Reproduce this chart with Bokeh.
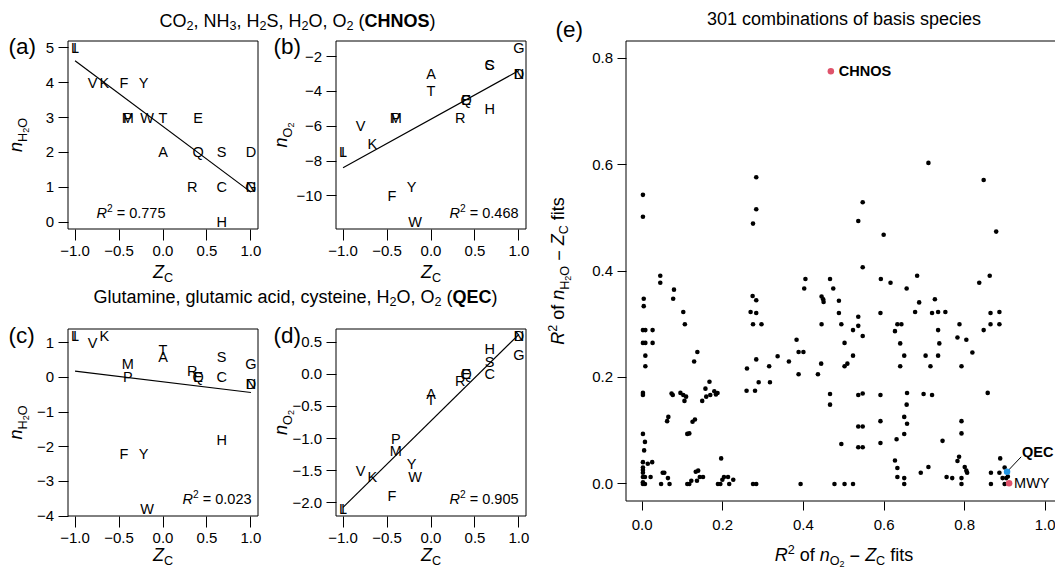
import math
import numpy as np
from bokeh.plotting import figure
from bokeh.models import (Range1d, FixedTicker, CustomJSTickFormatter, Label, ColumnDataSource,
                          LinearAxis, BoxAnnotation)
from bokeh.core.properties import value
from bokeh.embed import file_html
from bokeh.resources import INLINE

FONT = "Liberation Sans"

# ---------------- data: amino acids ----------------
letters = ["A", "C", "D", "E", "F", "G", "H", "I", "K", "L",
           "M", "N", "P", "Q", "R", "S", "T", "V", "W", "Y"]
zc = [0.0, 0.667, 1.0, 0.4, -0.444, 1.0, 0.667, -1.0, -0.667, -1.0,
      -0.4, 1.0, -0.4, 0.4, 0.333, 0.667, 0.0, -0.8, -0.182, -0.222]
chnos_h2o = [2, 1, 2, 3, 4, 1, 0, 5, 4, 5, 3, 1, 3, 2, 1, 2, 3, 4, 3, 4]
chnos_o2 = [-3, -2.5, -3, -4.5, -10, -1.5, -5, -7.5, -7, -7.5,
            -5.5, -3, -5.5, -4.5, -5.5, -2.5, -4, -6, -11.5, -9.5]
qec_h2o = [0.6, 0.0, -0.2, 0.0, -2.2, 0.4, -1.8, 1.2, 1.2, 1.2,
           0.4, -0.2, 0.0, 0.0, 0.2, 0.6, 0.8, 1.0, -3.8, -2.2]
qec_o2 = [-0.3, 0.0, 0.6, 0.0, -1.9, 0.3, 0.4, -2.1, -1.6, -2.1,
          -1.2, 0.6, -1.0, 0.0, -0.1, 0.2, -0.4, -1.5, -1.6, -1.4]
r2_text = ["0.775", "0.468", "0.023", "0.905"]

x_ticks = [-1.0, -0.5, 0.0, 0.5, 1.0]
a_yticks = [0, 1, 2, 3, 4, 5]
b_yticks = [-10, -8, -6, -4, -2]
c_yticks = [-4, -3, -2, -1, 0, 1]
d_yticks = [-2.0, -1.5, -1.0, -0.5, 0.0, 0.5]
e_xticks = [0.0, 0.2, 0.4, 0.6, 0.8, 1.0]
e_yticks = [0.0, 0.2, 0.4, 0.6, 0.8]

# ---------------- data: 301 combinations (R2 of nO2-ZC, R2 of nH2O-ZC) ----------------
ex_upper = [0.002, 0.002, 0.283, 0.283, 0.275, 0.710, 0.847, 0.547, 0.536, 0.599, 0.878, 0.547,
            0.045, 0.405, 0.466, 0.592, 0.682, 0.862, 0.045, 0.079, 0.402, 0.474, 0.616, 0.656,
            0.836, 0.004, 0.077, 0.274, 0.283, 0.445, 0.449, 0.450, 0.488, 0.726, 0.687]
ey_upper = [0.543, 0.502, 0.576, 0.516, 0.489, 0.603, 0.571, 0.529, 0.494, 0.468, 0.474, 0.407,
            0.391, 0.385, 0.385, 0.385, 0.391, 0.391, 0.378, 0.365, 0.367, 0.367, 0.378, 0.367,
            0.378, 0.348, 0.348, 0.353, 0.345, 0.352, 0.347, 0.342, 0.344, 0.347, 0.341]
ex_g1 = [0.004, 0.102, 0.106, 0.002, 0.008, 0.026, 0.002, 0.008, 0.026, 0.008, 0.008, 0.137,
         0.129, 0.002, 0.002, 0.073, 0.076, 0.095, 0.102, 0.109, 0.105, 0.149, 0.157, 0.167,
         0.159, 0.169, 0.179, 0.183, 0.187, 0.065, 0.062, 0.125, 0.131, 0.112, 0.117, 0.002,
         0.007, 0.005, 0.002, 0.014, 0.025, 0.002, 0.002, 0.002, 0.002, 0.007, 0.021, 0.002,
         0.007, 0.002, 0.047, 0.068, 0.051, 0.055, 0.064, 0.112, 0.117, 0.122, 0.133, 0.139,
         0.136, 0.143, 0.151, 0.196, 0.188, 0.194, 0.199, 0.203, 0.213, 0.216, 0.226]
ey_g1 = [0.334, 0.323, 0.300, 0.289, 0.289, 0.289, 0.265, 0.265, 0.265, 0.241, 0.221, 0.248,
         0.230, 0.171, 0.167, 0.170, 0.167, 0.171, 0.167, 0.164, 0.156, 0.156, 0.179, 0.192,
         0.164, 0.167, 0.174, 0.168, 0.171, 0.126, 0.118, 0.117, 0.121, 0.094, 0.095, 0.094,
         0.079, 0.063, 0.041, 0.038, 0.041, 0.031, 0.026, 0.021, 0.013, 0.013, 0.013, 0.003,
         0.000, 0.000, 0.000, 0.000, 0.021, 0.021, 0.011, 0.000, 0.000, 0.006, 0.023, 0.025,
         0.006, 0.013, 0.013, 0.048, 0.000, 0.000, 0.008, 0.013, 0.013, 0.000, 0.008]
ex_g2 = [0.269, 0.283, 0.488, 0.275, 0.296, 0.445, 0.494, 0.383, 0.388, 0.400, 0.502, 0.283,
         0.336, 0.364, 0.260, 0.315, 0.444, 0.502, 0.388, 0.436, 0.289, 0.317, 0.259, 0.280,
         0.466, 0.466, 0.494, 0.275, 0.283, 0.393, 0.477, 0.502]
ey_g2 = [0.323, 0.321, 0.321, 0.300, 0.300, 0.300, 0.300, 0.271, 0.248, 0.248, 0.265, 0.234,
         0.240, 0.230, 0.217, 0.221, 0.226, 0.221, 0.206, 0.206, 0.191, 0.191, 0.175, 0.175,
         0.169, 0.149, 0.075, 0.000, 0.000, 0.000, 0.000, 0.000]
ex_g3 = [0.536, 0.591, 0.677, 0.719, 0.734, 0.752, 0.536, 0.523, 0.547, 0.523, 0.509, 0.633,
         0.643, 0.627, 0.640, 0.650, 0.640, 0.703, 0.715, 0.734, 0.737, 0.734, 0.536, 0.547,
         0.591, 0.657, 0.698, 0.719, 0.656, 0.650, 0.657, 0.591, 0.650, 0.631, 0.536, 0.547,
         0.536, 0.547, 0.591, 0.745, 0.627, 0.633, 0.691, 0.710, 0.755, 0.633, 0.650, 0.650,
         0.523]
ey_g3 = [0.314, 0.321, 0.323, 0.321, 0.323, 0.323, 0.297, 0.289, 0.278, 0.241, 0.226, 0.300,
         0.300, 0.287, 0.264, 0.241, 0.221, 0.241, 0.221, 0.289, 0.264, 0.241, 0.167, 0.170,
         0.167, 0.171, 0.169, 0.167, 0.149, 0.126, 0.113, 0.118, 0.094, 0.084, 0.108, 0.108,
         0.069, 0.069, 0.077, 0.081, 0.044, 0.030, 0.021, 0.032, 0.013, 0.013, 0.011, 0.000,
         0.000]
ex_g4 = [0.864, 0.886, 0.787, 0.864, 0.886, 0.847, 0.782, 0.804, 0.819, 0.792, 0.857, 0.792,
         0.792, 0.786, 0.782, 0.800, 0.804, 0.806, 0.792, 0.792, 0.769, 0.865, 0.865, 0.886,
         0.888, 0.899, 0.894, 0.903, 0.907, 0.899]
ey_g4 = [0.321, 0.323, 0.300, 0.300, 0.300, 0.289, 0.275, 0.271, 0.247, 0.221, 0.171, 0.118,
         0.095, 0.051, 0.043, 0.032, 0.025, 0.021, 0.011, 0.000, 0.011, 0.021, 0.000, 0.021,
         0.048, 0.031, 0.011, 0.011, 0.014, 0.000]

hl_names = ["CHNOS", "QEC", "MWY"]
hl_x = [0.468, 0.905, 0.910]
hl_y = [0.775, 0.023, 0.0015]
hl_colors = ["#DF536B", "#2297E6", "#DF536B"]

# ---------------- helpers ----------------
W_REG = {' ': 278, '(': 333, ')': 333, ',': 278, '.': 278, '=': 584, '\u2212': 584, '-': 333,
         'A': 667, 'C': 722, 'D': 722, 'E': 667, 'G': 778, 'H': 722, 'M': 833, 'N': 722,
         'O': 778, 'Q': 778, 'R': 722, 'S': 667, 'W': 944, 'Y': 667, 'Z': 611,
         'a': 556, 'b': 556, 'c': 500, 'd': 556, 'e': 556, 'f': 278, 'g': 556, 'i': 222,
         'l': 222, 'm': 833, 'n': 556, 'o': 556, 'p': 556, 's': 500, 't': 278, 'u': 556, 'y': 500}
for _d in "0123456789":
    W_REG[_d] = 556


def tw(s, size):
    return sum(W_REG.get(ch, 556) for ch in s) * size / 1000.0


WIDTH, HEIGHT = 1055, 568
p = figure(width=WIDTH, height=HEIGHT, x_range=Range1d(0, WIDTH), y_range=Range1d(HEIGHT, 0),
           title=None, x_axis_location=None, y_axis_location=None, toolbar_location=None,
           min_border=0, outline_line_color=None, output_backend="svg",
           background_fill_color="white", border_fill_color="white")
p.grid.visible = False

MID = 0.35  # distance (in em) from the alphabetic baseline to the middle of the text box


def label(x, y, text, size, style="normal", align="left", angle=0.0):
    # (x, y) is a point on the alphabetic baseline; anchor the label at the text middle
    ax = x - MID * size * math.sin(angle)
    ay = y - MID * size * math.cos(angle)
    p.add_layout(Label(x=ax, y=ay, x_units="canvas", y_units="canvas", text=text, angle=angle,
                       text_font=FONT, text_font_size=f"{size}px", text_font_style=style,
                       text_align=align, text_baseline="middle", text_color="black"))


def rich(x, y, runs, align="center", angle=0.0):
    widths = [tw(t, sz) for (t, sz, st, dy) in runs]
    total = sum(widths)
    pos = {"left": 0.0, "center": -total / 2.0, "right": -total}[align]
    ca, sa = math.cos(angle), math.sin(angle)
    for (t, sz, st, dy), w in zip(runs, widths):
        lead = tw(t[:len(t) - len(t.lstrip(' '))], sz)
        q = pos + lead
        px = x + q * ca - dy * sa
        py = y - q * sa - dy * ca
        if t.strip():
            label(px, py, t.strip(), sz, st, "left", angle)
        pos += w


def fmt(dec):
    return CustomJSTickFormatter(
        code="var s = Math.abs(tick).toFixed(%d); return (tick < -1e-9 ? '\\u2212' : '') + s;" % dec)


xr_extra, yr_extra = {}, {}


def axis(side, xn, yn, loc, ticks, dec, out, stand):
    ax = LinearAxis(x_range_name=xn, y_range_name=yn, fixed_location=loc,
                    ticker=FixedTicker(ticks=ticks, minor_ticks=[]), formatter=fmt(dec),
                    axis_line_color=None, major_tick_out=out, major_tick_in=0,
                    major_tick_line_color="black", minor_tick_line_color=None,
                    major_label_standoff=stand, major_label_text_font=FONT,
                    major_label_text_font_size="15px", major_label_text_color="black")
    p.add_layout(ax, side)


def frame(name, box, xlim, ylim, xt, xdec, yt, ydec, xtk, ytk):
    L, R, T, B = box
    x0, x1 = xlim
    y0, y1 = ylim
    sx = (R - L) / (x1 - x0)
    sy = (B - T) / (y1 - y0)
    xn, yn = name + "_x", name + "_y"
    xr_extra[xn] = Range1d(x0 - L / sx, x0 + (WIDTH - L) / sx)
    yr_extra[yn] = Range1d(y1 - (HEIGHT - T) / sy, y1 + T / sy)
    axis("below", xn, yn, y0, xt, xdec, xtk[0], xtk[1])
    axis("left", xn, yn, x0, yt, ydec, ytk[0], ytk[1])
    p.add_layout(BoxAnnotation(left=x0, right=x1, bottom=y0, top=y1, x_range_name=xn,
                               y_range_name=yn, fill_alpha=0, fill_color=None,
                               line_color="black", line_alpha=1.0, line_width=1))
    return xn, yn


SUB = 12.6
NH2O = [("n", 18, "italic", 0), ("H", SUB, "normal", -5), ("2", 9, "normal", -7), ("O", SUB, "normal", -5)]
NO2 = [("n", 18, "italic", 0), ("O", SUB, "normal", -5), ("2", 9, "normal", -7)]
ZCL = [("Z", 18, "italic", 0), ("C", SUB, "normal", -3.5)]


def r2_runs(txt):
    return [("R", 14.5, "italic", 0), ("2", 10.2, "normal", 6.5), (" = " + txt, 14.5, "normal", 0)]


def panel(name, box, ylim, yticks, ydec, yvals, r2, r2xy, r2align, tag, tagxy, ylab, ylabx, xlaby):
    xn, yn = frame(name, box, (-1.08, 1.08), ylim, x_ticks, 1, yticks, ydec, (11, 6), (10, 4))
    src = ColumnDataSource(dict(x=zc, y=yvals, t=letters))
    p.text(x="x", y="y", text="t", source=src, x_range_name=xn, y_range_name=yn,
           text_font=value(FONT), text_font_size=value("14.5px"), text_align="center",
           text_baseline="middle", text_color="black")
    slope, icpt = np.polyfit(zc, yvals, 1)
    xs = [min(zc), max(zc)]
    p.line(xs, [slope * v + icpt for v in xs], x_range_name=xn, y_range_name=yn,
           line_color="black", line_width=1.2)
    rich(r2xy[0], r2xy[1], r2_runs(r2), r2align)
    label(tagxy[0], tagxy[1], tag, 22.5)
    L, R, T, B = box
    rich(ylabx, (T + B) / 2.0, ylab, "center", math.pi / 2)
    rich((L + R) / 2.0, xlaby, ZCL, "center")


# ---------------- titles ----------------
rich(297, 26.7, [("CO", 18, "normal", 0), ("2", SUB, "normal", -2.7), (", NH", 18, "normal", 0),
                 ("3", SUB, "normal", -2.7), (", H", 18, "normal", 0), ("2", SUB, "normal", -2.7),
                 ("S, H", 18, "normal", 0), ("2", SUB, "normal", -2.7), ("O, O", 18, "normal", 0),
                 ("2", SUB, "normal", -2.7), (" (", 18, "normal", 0), ("CHNOS", 18, "bold", 0),
                 (")", 18, "normal", 0)])
rich(295, 303, [("Glutamine, glutamic acid, cysteine, H", 18, "normal", 0), ("2", SUB, "normal", -2.7),
                ("O, O", 18, "normal", 0), ("2", SUB, "normal", -2.7), (" (", 18, "normal", 0),
                ("QEC", 18, "bold", 0), (")", 18, "normal", 0)])

# ---------------- panels a-d ----------------
panel("a", (67.5, 257.5, 40.5, 228.5), (-0.2, 5.2), a_yticks, 0, chnos_h2o, r2_text[0],
      (96, 218), "left", "(a)", (8, 54), NH2O, 22, 278)
panel("b", (335.5, 525.5, 40.5, 228.5), (-11.9, -1.1), b_yticks, 0, chnos_o2, r2_text[1],
      (518, 218), "right", "(b)", (273, 54), NO2, 287, 278)
panel("c", (67.5, 257.5, 328.5, 515.5), (-4.0, 1.4), c_yticks, 0, qec_h2o, r2_text[2],
      (251, 504), "right", "(c)", (8, 342.5), NH2O, 22, 561)
panel("d", (335.5, 525.5, 328.5, 515.5), (-2.208, 0.708), d_yticks, 1, qec_o2, r2_text[3],
      (518, 504), "right", "(d)", (273, 342.5), NO2, 287, 561)

# ---------------- panel e ----------------
exn, eyn = frame("e", (625.5, 1061.0, 40.5, 500.5), (-0.04, 1.04), (-0.032, 0.832),
                 e_xticks, 1, e_yticks, 1, (9, 10), (9, 4))
ex_all = ex_upper + ex_g1 + ex_g2 + ex_g3 + ex_g4
ey_all = ey_upper + ey_g1 + ey_g2 + ey_g3 + ey_g4
p.scatter(ex_all, ey_all, size=4.6, fill_color="black", line_color=None,
          x_range_name=exn, y_range_name=eyn)
p.line([hl_x[1], 0.940], [hl_y[1], 0.051], line_color="black", line_width=1,
       x_range_name=exn, y_range_name=eyn)
p.scatter(hl_x, hl_y, size=6.5, fill_color=hl_colors, line_color=None,
          x_range_name=exn, y_range_name=eyn)
p.add_layout(Label(x=hl_x[0], y=hl_y[0], x_offset=8, text=hl_names[0], text_font=FONT,
                   x_range_name=exn, y_range_name=eyn,
                   text_font_size="14.5px", text_font_style="bold", text_align="left",
                   text_baseline="middle", text_color="black"))
p.add_layout(Label(x=0.942, y=0.0605, text=hl_names[1], text_font=FONT,
                   x_range_name=exn, y_range_name=eyn,
                   text_font_size="14.5px", text_font_style="bold", text_align="left",
                   text_baseline="middle", text_color="black"))
p.add_layout(Label(x=hl_x[2], y=hl_y[2], x_offset=5, text=hl_names[2], text_font=FONT,
                   x_range_name=exn, y_range_name=eyn,
                   text_font_size="14.5px", text_align="left",
                   text_baseline="middle", text_color="black"))

label(555, 37.3, "(e)", 22.5)
label(843.5, 25, "301 combinations of basis species", 18, "normal", "center")
rich(564, 270.5, [("R", 18, "italic", 0), ("2", SUB, "normal", 8), (" of ", 18, "normal", 0),
                  ("n", 18, "italic", 0), ("H", SUB, "normal", -5), ("2", 9, "normal", -7),
                  ("O", SUB, "normal", -5), (" \u2212 ", 18, "normal", 0), ("Z", 18, "italic", 0),
                  ("C", SUB, "normal", -3.5), (" fits", 18, "normal", 0)], "center", math.pi / 2)
rich(843.5, 561, [("R", 18, "italic", 0), ("2", SUB, "normal", 8), (" of ", 18, "normal", 0),
                  ("n", 18, "italic", 0), ("O", SUB, "normal", -4), ("2", 9, "normal", -5.5),
                  (" \u2212 ", 18, "normal", 0), ("Z", 18, "italic", 0),
                  ("C", SUB, "normal", -3.5), (" fits", 18, "normal", 0)], "center")

p.extra_x_ranges = xr_extra
p.extra_y_ranges = yr_extra

with open("out.html", "w", encoding="utf-8") as f:
    f.write(file_html(p, INLINE))
